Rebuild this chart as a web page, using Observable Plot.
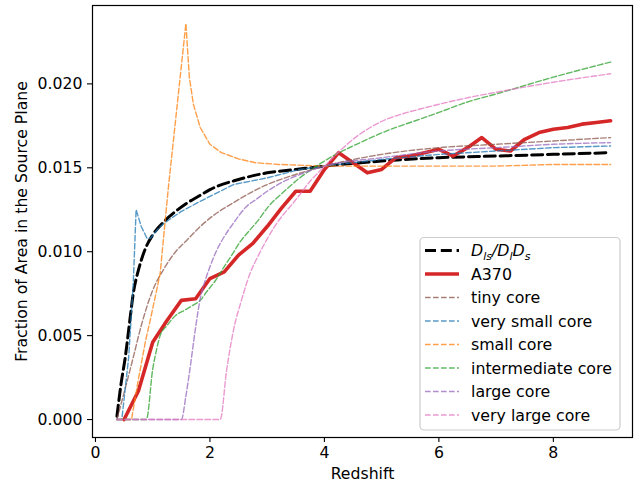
<!DOCTYPE html>
<html>
<head>
<meta charset="utf-8">
<script src="https://cdn.jsdelivr.net/npm/d3@7"></script>
<script src="https://cdn.jsdelivr.net/npm/@observablehq/plot@0.6"></script>
<style>
  html, body { margin: 0; padding: 0; background: white; }
  #chart { width: 636px; height: 492px; }
</style>
</head>
<body>
<div id="chart"></div>
<script>
// ---- data ----
const xTicks = [0, 2, 4, 6, 8];
const yTicks = [0, 0.005, 0.010, 0.015, 0.020];

const seriesNames = ["D_ls/D_lD_s", "A370", "tiny core", "very small core", "small core", "intermediate core", "large core", "very large core"];

const dlsX = [0.375,0.45,0.52,0.6,0.66,0.75,0.81,0.9,1.0,1.2,1.4,1.6,1.8,2.0,2.5,3.0,3.5,4.0,5.0,6.0,7.0,8.0,9.0];
const dlsY = [0.0002,0.0022,0.0037,0.0059,0.0075,0.0089,0.0096,0.0104,0.0110,0.0118,0.0124,0.0129,0.0133,0.0137,0.0143,0.0147,0.0149,0.0151,0.0154,0.0156,0.0157,0.0158,0.0159];

const a370X = [0.5,0.75,1.0,1.25,1.5,1.75,2.0,2.25,2.5,2.75,3.0,3.25,3.5,3.75,4.0,4.25,4.5,4.75,5.0,5.25,5.5,5.75,6.0,6.25,6.5,6.75,7.0,7.25,7.5,7.75,8.0,8.25,8.5,8.75,9.0];
const a370Y = [0.0000,0.0017,0.0046,0.0059,0.0071,0.0072,0.0084,0.0088,0.0098,0.0105,0.0115,0.0126,0.0136,0.0136,0.0149,0.0159,0.0153,0.0147,0.0149,0.0156,0.0157,0.0159,0.0161,0.0157,0.0162,0.0168,0.0161,0.0160,0.0167,0.0171,0.0173,0.0174,0.0176,0.0177,0.0178];

const tinyX = [0.375,0.5,0.66,0.8,1.0,1.2,1.4,1.6,1.8,2.0,2.4,3.0,3.5,4.0,5,6,7,8,9];
const tinyY = [0,0.0016,0.0037,0.0056,0.0077,0.0090,0.0100,0.0107,0.0114,0.0120,0.0129,0.0140,0.0146,0.0151,0.0158,0.0162,0.0164,0.0166,0.0168];

const vsmallX = [0.375,0.46,0.58,0.66,0.71,0.8,0.9,0.96,1.1,1.2,1.5,1.83,2.41,3.0,3.57,4.0,5,6,7,8,9];
const vsmallY = [0,0,0.0037,0.0081,0.0125,0.0115,0.0108,0.0108,0.0114,0.0117,0.0124,0.0130,0.0140,0.0144,0.0149,0.0151,0.0155,0.0158,0.0160,0.0162,0.0163];

const smallX = [0.375,0.63,0.75,0.87,1.0,1.13,1.27,1.58,1.64,1.71,1.83,2.0,2.2,2.5,2.8,3.2,4.0,5,6,7,8,9];
const smallY = [0,0,0.0024,0.0046,0.0066,0.0087,0.0137,0.0236,0.0204,0.0188,0.0174,0.0164,0.0159,0.01553,0.0153,0.0152,0.0151,0.0151,0.0151,0.0151,0.0152,0.0152];

const interX = [0.375,0.89,1.0,1.07,1.13,1.25,1.4,1.55,1.7,1.83,1.94,2.1,2.23,2.4,2.53,2.7,2.85,3.0,3.3,3.57,3.86,4.2,4.5,5.09,5.67,6.0,6.48,7,8,9];
const interY = [0,0,0.0030,0.0042,0.0050,0.0056,0.0062,0.0065,0.0068,0.0071,0.0076,0.0083,0.0090,0.0099,0.0106,0.0113,0.0119,0.0126,0.0136,0.0144,0.0151,0.0158,0.0163,0.0172,0.0179,0.0183,0.0189,0.0194,0.0204,0.0213];

const largeX = [0.375,1.5,1.58,1.65,1.75,1.83,1.9,2.0,2.12,2.25,2.41,2.64,2.8,3.0,3.3,3.57,4.0,5,6,7,8,9];
const largeY = [0,0,0.0014,0.0030,0.0055,0.0072,0.0081,0.0091,0.0101,0.0109,0.0117,0.0127,0.0131,0.0136,0.0142,0.0146,0.0151,0.0156,0.0160,0.0162,0.0164,0.0165];

const vlargeX = [0.375,2.18,2.29,2.41,2.55,2.7,2.85,2.99,3.13,3.28,3.43,3.57,3.75,3.98,4.21,4.5,4.8,5.09,5.4,5.67,6.02,6.54,7,8,9];
const vlargeY = [0,0,0.0029,0.0053,0.0071,0.0087,0.0098,0.0107,0.0115,0.0122,0.0128,0.0134,0.0142,0.0150,0.0158,0.0167,0.0174,0.0179,0.01825,0.0185,0.0188,0.0192,0.0195,0.0201,0.0206];

// ---- styling ----
const colors = {
  "tiny core": "#8c564b",
  "very small core": "#1f77b4",
  "small core": "#ff7f0e",
  "intermediate core": "#2ca02c",
  "large core": "#9467bd",
  "very large core": "#e377c2"
};
const modelOpacity = 0.75;
const modelDash = "5.6,2.4";

function rows(xs, ys) { return xs.map((x, i) => ({x, y: ys[i]})); }

const models = [
  ["tiny core", tinyX, tinyY, "monotone-x"],
  ["very small core", vsmallX, vsmallY, "linear"],
  ["small core", smallX, smallY, "linear"],
  ["intermediate core", interX, interY, "monotone-x"],
  ["large core", largeX, largeY, "monotone-x"],
  ["very large core", vlargeX, vlargeY, "monotone-x"]
];

const chart = Plot.plot({
  width: 636,
  height: 492,
  marginLeft: 92,
  marginRight: 4,
  marginTop: 5,
  marginBottom: 55,
  style: {fontFamily: "DejaVu Sans", fontSize: "15.7px", background: "white", color: "black", overflow: "visible"},
  x: {domain: [-0.052, 9.383]},
  y: {domain: [-0.00107, 0.02467]},
  marks: [
    Plot.axisX({ticks: xTicks, tickSize: 5, tickPadding: 4, tickFormat: d => String(d), label: null, strokeWidth: 1.1}),
    Plot.axisY({ticks: yTicks, tickSize: 5, tickPadding: 5, tickFormat: d3.format(".3f"), label: null, strokeWidth: 1.1}),
    Plot.line(rows(dlsX, dlsY), {x: "x", y: "y", stroke: "black", strokeWidth: 3, strokeDasharray: "11,4.8", curve: "monotone-x"}),
    Plot.line(rows(a370X, a370Y), {x: "x", y: "y", stroke: "#d62728", strokeWidth: 3.6, curve: "linear"}),
    ...models.map(([name, xs, ys, curve]) =>
      Plot.line(rows(xs, ys), {x: "x", y: "y", stroke: colors[name], strokeOpacity: modelOpacity, strokeWidth: 1.4, strokeDasharray: modelDash, curve})
    ),
    Plot.frame({stroke: "black", strokeWidth: 1.2}),
    Plot.text(["Redshift"], {text: d => d, frameAnchor: "bottom", dy: 41, textAnchor: "middle"}),
    Plot.text(["Fraction of Area in the Source Plane"], {text: d => d, frameAnchor: "left", dx: -71, rotate: -90, textAnchor: "middle"})
  ]
});

document.getElementById("chart").appendChild(chart);

// ---- legend inside the axes (lower right) ----
const svg = d3.select(chart);
const lg = svg.append("g").attr("font-family", "DejaVu Sans").attr("font-size", "15.8px").attr("text-anchor", "start");
lg.append("rect").attr("x", 420).attr("y", 237.5).attr("width", 200).attr("height", 192.5)
  .attr("rx", 4).attr("fill", "white").attr("fill-opacity", 0.8).attr("stroke", "#cccccc").attr("stroke-width", 1.2);
const legendItems = [
  {name: seriesNames[0], stroke: "black", width: 3, dash: "11,4.8", opacity: 1},
  {name: seriesNames[1], stroke: "#d62728", width: 3.6, dash: null, opacity: 1},
  ...models.map(([name]) => ({name, stroke: colors[name], width: 1.4, dash: modelDash, opacity: modelOpacity}))
];
legendItems.forEach((it, i) => {
  const cy = 250.5 + i * 23.5;
  const ln = lg.append("line").attr("x1", 425).attr("x2", 459).attr("y1", cy).attr("y2", cy)
    .attr("stroke", it.stroke).attr("stroke-width", it.width).attr("stroke-opacity", it.opacity);
  if (it.dash) ln.attr("stroke-dasharray", it.dash);
  const t = lg.append("text").attr("x", 471).attr("y", cy).attr("dy", "0.36em").attr("fill", "black").attr("text-anchor", "start");
  if (i === 0) {
    const parts = [["D", 0, false], ["ls", 4, true], ["/", -4, false], ["D", 0, false], ["l", 4, true], ["D", -4, false], ["s", 4, true]];
    parts.forEach(([s, dy, sub]) => {
      const ts = t.append("tspan").attr("font-style", "italic").text(s);
      if (dy) ts.attr("dy", dy);
      if (sub) ts.attr("font-size", "11px");
    });
  } else {
    t.text(it.name);
  }
});
</script>
</body>
</html>
